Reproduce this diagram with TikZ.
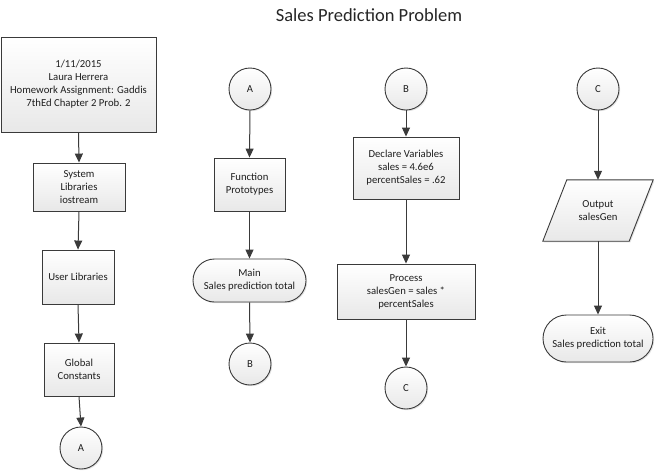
\documentclass[tikz,border=0pt]{standalone}
\usepackage{fontspec}
\setmainfont{Carlito}
\usetikzlibrary{arrows.meta,shapes.misc,shadows}
\definecolor{ln}{HTML}{3A3A3A}
\tikzset{
  x={(1pt,0)}, y={(0,-1pt)},
  flow/.style={draw=ln, line width=0.9pt, top color=white, bottom color=black!9,
    drop shadow={opacity=0.22, shadow xshift=1.2pt, shadow yshift=-1.2pt},
    font=\fontsize{10.7}{13}\selectfont, text=black!88, align=center, inner sep=0pt},
  procbox/.style={flow, rectangle},
  termbox/.style={flow, rounded rectangle},
  conn/.style={flow, circle, minimum size=42pt},
  plain/.style={inner sep=0pt, align=center, font=\fontsize{10.7}{13}\selectfont, text=black!88},
  arr/.style={draw=ln, line width=1pt, -{Triangle[length=9pt,width=8pt]}}
}
\begin{document}
\begin{tikzpicture}
\useasboundingbox (0,0) rectangle (656,472);
\node[font=\fontsize{18.5}{20}\selectfont, text=black!85] (title) at (369,15) {Sales Prediction Problem};
% column 1
\node[procbox, minimum width=155pt, minimum height=95pt] (head) at (78.5,84.5)
  {1/11/2015\\Laura Herrera\\Homework Assignment: Gaddis\\7thEd Chapter 2 Prob. 2};
\node[procbox, minimum width=92pt, minimum height=48pt] (sys) at (79,187) {System\\Libraries\\iostream};
\node[procbox, minimum width=72pt, minimum height=54pt] (user) at (78,277) {User Libraries};
\node[procbox, minimum width=70pt, minimum height=53pt] (glob) at (79,369.5) {Global\\Constants};
\node[conn] (a1) at (81,448) {A};
% column 2
\node[conn] (a2) at (250,89) {A};
\node[procbox, minimum width=71pt, minimum height=53pt] (func) at (249.5,184.5) {Function\\Prototypes};
\node[termbox, minimum width=113pt, minimum height=43pt] (main) at (249.5,280.5) {Main\\Sales prediction total};
\node[conn] (b2) at (250,364) {B};
% column 3
\node[conn] (b3) at (406,89) {B};
\node[procbox, minimum width=106pt, minimum height=62pt] (decl) at (406,168)
  {Declare Variables\\sales = 4.6e6\\percentSales = .62};
\node[procbox, minimum width=138pt, minimum height=55pt] (proc) at (406,291.5)
  {Process\\salesGen = sales *\\percentSales};
\node[conn] (c3) at (406,388) {C};
% column 4
\node[conn] (c4) at (598,89) {C};
\node[minimum width=86pt, minimum height=61pt, inner sep=0pt] (out) at (598,210.5) {};
\path[flow] ([xshift=12pt]out.north west) -- ([xshift=12pt]out.north east)
  -- ([xshift=-12pt]out.south east) -- ([xshift=-12pt]out.south west) -- cycle;
\node[plain] (outtxt) at (out.center) {Output\\salesGen};
\node[termbox, minimum width=110pt, minimum height=47pt] (exit) at (598,338.5) {Exit\\Sales prediction total};
% connectors
\draw[arr] (head.south) -- (sys.north);
\draw[arr] (sys.south) -- (user.north);
\draw[arr] (user.south) -- (glob.north);
\draw[arr] (glob.south) -- (a1.north);
\draw[arr] (a2.south) -- (func.north);
\draw[arr] (func.south) -- (main.north);
\draw[arr] (main.south) -- (b2.north);
\draw[arr] (b3.south) -- (decl.north);
\draw[arr] (decl.south) -- (proc.north);
\draw[arr] (proc.south) -- (c3.north);
\draw[arr] (c4.south) -- (out.north);
\draw[arr] (out.south) -- (exit.north);
\end{tikzpicture}
\end{document}
